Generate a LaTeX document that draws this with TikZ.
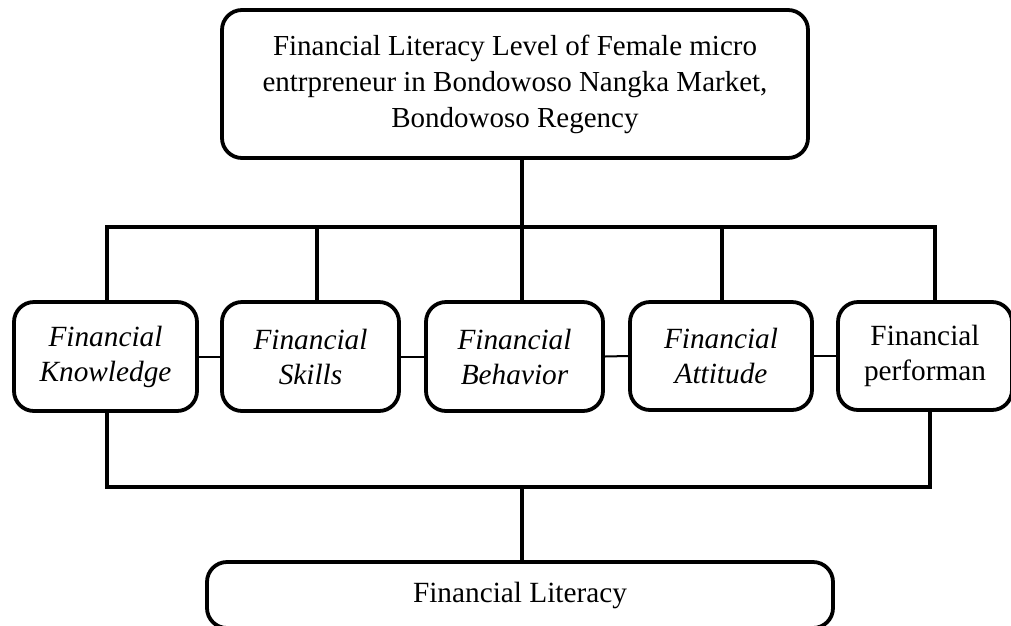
\documentclass[tikz,border=0pt]{standalone}
\usepackage{fontspec}
\setmainfont{Liberation Serif}
\begin{document}
\begin{tikzpicture}[x=1pt,y=-1pt,
  box/.style={draw=black,line width=3.8pt,rounded corners=20pt,align=center,inner sep=0pt},
  topbox/.style={box,minimum width=586pt,minimum height=148pt,font=\fontsize{29}{36}\selectfont},
  midbox/.style={box,minimum width=177pt,minimum height=109pt,font=\fontsize{29.3}{35}\selectfont},
  botbox/.style={box,minimum width=626pt,minimum height=66pt,font=\fontsize{29.3}{35}\selectfont},
  conn/.style={draw=black,line width=3.4pt},
  link/.style={draw=black,line width=2pt}]
\useasboundingbox (0,0) rectangle (1011,625);
\clip (0,0) rectangle (1011,625);
\node[topbox] (top) at (515,84) {Financial Literacy Level of Female micro\\entrpreneur in Bondowoso Nangka Market,\\Bondowoso Regency};
\node[midbox,minimum width=183pt] (b1) at (105.5,356.5) {\itshape Financial\\\itshape Knowledge};
\node[midbox] (b2) at (310.5,356.5) {\itshape Financial\\\itshape Skills};
\node[midbox] (b3) at (514.5,356.5) {\itshape Financial\\\itshape Behavior};
\node[midbox,minimum width=182pt,minimum height=108pt] (b4) at (721,356) {\itshape Financial\\\itshape Attitude};
\node[midbox,minimum width=174pt,minimum height=108pt] (b5) at (925,356) {Financial\\performan};
\node[botbox] (bot) at (520,595) {Financial Literacy};
% junction coordinates
\coordinate (busTop) at (522,227);
\coordinate (busTL) at (107,227);
\coordinate (busTR) at (935,227);
\coordinate (busBL) at (107,487);
\coordinate (busBR) at (930,487);
\coordinate (busBM) at (522,487);
% top tree
\draw[conn] (top.south -| busTop) -- (busTop);
\draw[conn,line cap=rect] (busTL) -- (busTR);
\draw[conn] (busTL) -- (b1.north -| busTL);
\draw[conn] (317,227) -- (b2.north -| 317,0);
\draw[conn] (busTop) -- (b3.north -| busTop);
\draw[conn] (722,227) -- (b4.north -| 722,0);
\draw[conn] (busTR) -- (b5.north -| busTR);
% links between boxes
\draw[link] (b1.east) -- (b2.west);
\draw[link] (b2.east) -- (b3.west);
\draw[link] (b3.east) -- (b4.west);
\draw[link] (b4.east) -- (b5.west);
% bottom tree
\draw[conn] (b1.south -| busBL) -- (busBL) -- (busBR) -- (b5.south -| busBR);
\draw[conn] (busBM) -- (bot.north -| busBM);
\end{tikzpicture}
\end{document}
